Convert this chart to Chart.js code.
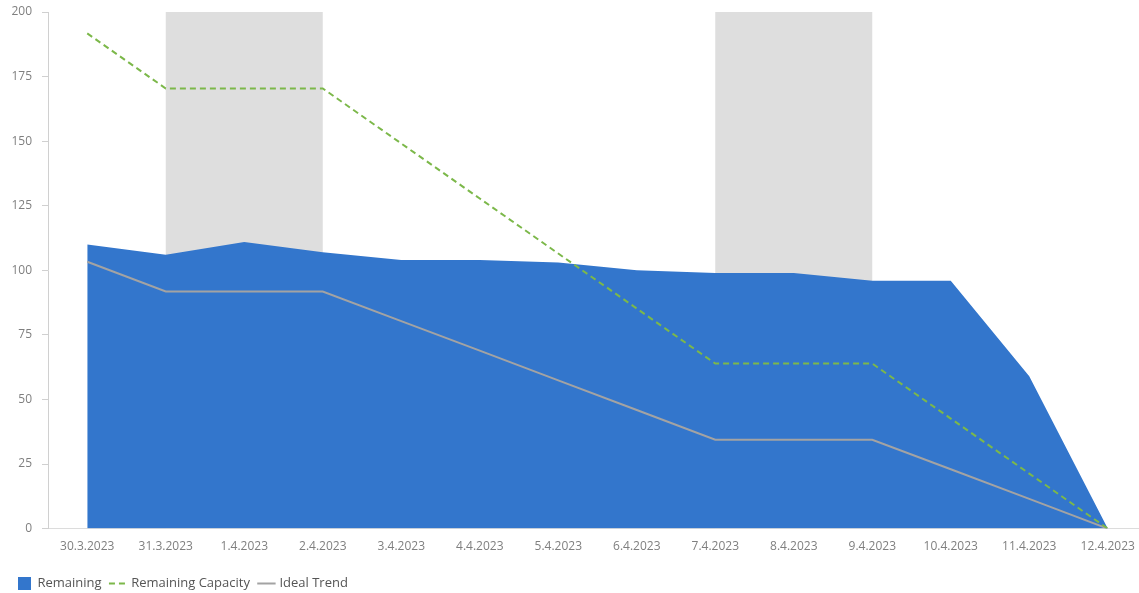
<!DOCTYPE html>
<html>
<head>
<meta charset="utf-8">
<title>Burndown</title>
<script src="https://cdn.jsdelivr.net/npm/chart.js@4/dist/chart.umd.min.js"></script>
<style>
  html, body { margin: 0; padding: 0; background: #fff; overflow: hidden; }
  #wrap { position: relative; width: 1147px; height: 593px; }
  canvas { display: block; }
</style>
</head>
<body>
<div id="wrap"><canvas id="chart" width="1147" height="593"></canvas></div>
<script>
// Sprint days
const days = ['30.3.2023', '31.3.2023', '1.4.2023', '2.4.2023', '3.4.2023', '4.4.2023', '5.4.2023',
  '6.4.2023', '7.4.2023', '8.4.2023', '9.4.2023', '10.4.2023', '11.4.2023', '12.4.2023'];

// Work still open at the end of each day
const remaining = [110, 106, 111, 107, 104, 104, 103, 100, 99, 99, 96, 96, 59, 0];

// Team capacity left (no capacity on weekend days)
const remainingCapacity = [191.7, 170.4, 170.4, 170.4, 149.1, 127.8, 106.5, 85.2, 63.9, 63.9, 63.9, 42.6, 21.3, 0];

// Ideal burn line (flat on non-working days)
const idealTrend = [103.3, 91.8, 91.8, 91.8, 80.3, 68.9, 57.4, 45.9, 34.4, 34.4, 34.4, 23.0, 11.5, 0];

// Non-working spans, shaded behind the series
const weekendStart = ['31.3.2023', '7.4.2023'];
const weekendEnd = ['2.4.2023', '9.4.2023'];

const yTicks = [0, 25, 50, 75, 100, 125, 150, 175, 200];

const FONT = "'Open Sans', 'Noto Sans', sans-serif";

const weekendBands = {
  id: 'weekendBands',
  beforeDatasetsDraw(chart) {
    const { ctx, chartArea, scales } = chart;
    ctx.save();
    ctx.fillStyle = '#dedede';
    weekendStart.forEach((s, i) => {
      const x0 = scales.x.getPixelForValue(days.indexOf(s));
      const x1 = scales.x.getPixelForValue(days.indexOf(weekendEnd[i]));
      ctx.fillRect(x0, chartArea.top, x1 - x0, chartArea.bottom - chartArea.top);
    });
    ctx.restore();
  }
};

new Chart(document.getElementById('chart'), {
  type: 'line',
  data: {
    labels: days,
    datasets: [
      {
        label: 'Remaining',
        data: remaining,
        backgroundColor: '#3376cc',
        borderColor: '#3376cc',
        borderWidth: 0,
        fill: 'origin',
        pointRadius: 0,
        tension: 0,
        order: 3
      },
      {
        label: 'Remaining Capacity',
        data: remainingCapacity,
        borderColor: '#7cb84a',
        backgroundColor: '#7cb84a',
        borderWidth: 2,
        borderDash: [6, 4],
        fill: false,
        pointRadius: 0,
        tension: 0,
        order: 1
      },
      {
        label: 'Ideal Trend',
        data: idealTrend,
        borderColor: '#a3a3a3',
        backgroundColor: '#a3a3a3',
        borderWidth: 2,
        fill: false,
        pointRadius: 0,
        tension: 0,
        order: 2
      }
    ]
  },
  options: {
    responsive: false,
    animation: false,
    maintainAspectRatio: false,
    layout: { padding: { top: 12, left: 8, right: 0, bottom: -7 } },
    scales: {
      x: {
        offset: true,
        afterFit(scale) { scale.height += 2; },
        grid: { display: true, drawOnChartArea: false, drawTicks: false },
        border: { display: true, color: '#dcdcdc', width: 1 },
        ticks: { color: '#7f7f7f', font: { family: FONT, size: 12 }, padding: 11, maxRotation: 0, autoSkip: false }
      },
      y: {
        min: 0,
        max: 200,
        afterBuildTicks(scale) { scale.ticks = yTicks.map(v => ({ value: v })); },
        afterFit(scale) { scale.width = 40; scale.paddingTop = 0; },
        grid: { display: true, drawOnChartArea: false, drawTicks: true, tickLength: 6, color: '#d0d0d0' },
        border: { display: true, color: '#d0d0d0', width: 1 },
        ticks: { color: '#7f7f7f', font: { family: FONT, size: 12 }, padding: 10 }
      }
    },
    plugins: {
      legend: {
        position: 'bottom',
        align: 'start',
        labels: {
          usePointStyle: true,
          color: '#555',
          font: { family: FONT, size: 13 },
          boxWidth: 14,
          boxHeight: 14,
          padding: 10,
          sort: (a, b) => a.datasetIndex - b.datasetIndex,
          generateLabels(chart) {
            return chart.data.datasets.map((ds, i) => ({
              text: ds.label,
              datasetIndex: i,
              fillStyle: ds.backgroundColor,
              strokeStyle: ds.borderColor,
              lineWidth: i === 0 ? 0 : 2,
              lineDash: ds.borderDash || [],
              pointStyle: i === 0 ? 'rect' : 'line',
              hidden: false,
              fontColor: '#555'
            }));
          }
        }
      },
      tooltip: { enabled: false }
    }
  },
  plugins: [weekendBands]
});
</script>
</body>
</html>
